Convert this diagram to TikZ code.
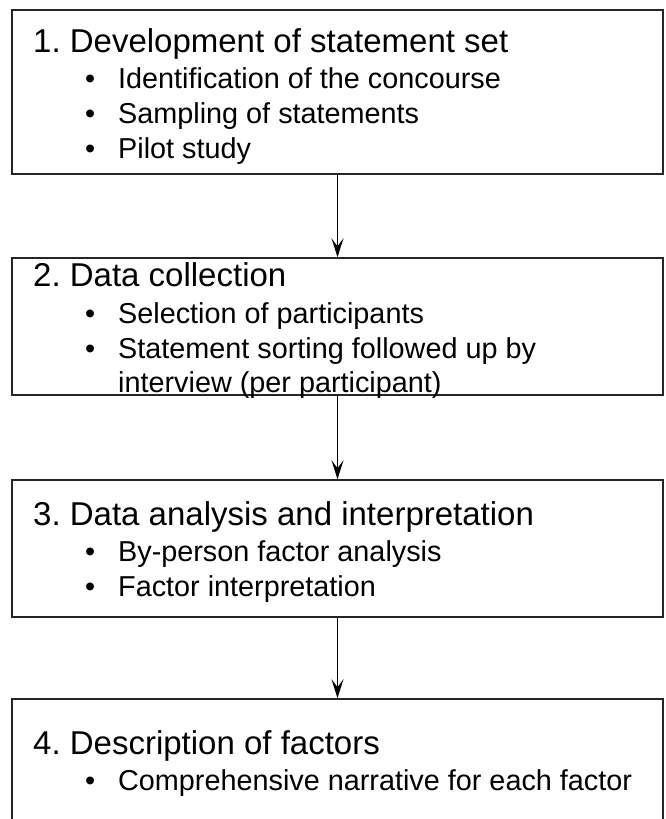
\documentclass[tikz,border=0pt]{standalone}
\usepackage{fontspec}
\setmainfont{Liberation Sans}
\usetikzlibrary{positioning,arrows.meta}
\usepackage{xcolor}
\newcommand{\itm}{\llap{\textbullet\hspace{23pt}}}
\frenchspacing

\begin{document}
\begin{tikzpicture}[x=1pt,y=-1pt,>={Stealth[length=19pt,width=12pt,inset=8pt]},
  stagebox/.style={draw=black!85,line width=1.6pt,minimum width=651pt,inner sep=0pt},
  title/.style={anchor=base west,inner sep=0pt,font=\fontsize{33}{38}\selectfont},
  entry/.style={anchor=base west,inner sep=0pt,font=\fontsize{28.8}{35}\selectfont}]
\useasboundingbox (0,0) rectangle (665,819);
% the four stages
\node[stagebox,minimum height=164pt] (b1) at (337.5,92) {};
\node[stagebox,minimum height=137pt] (b2) at (337.5,326.5) {};
\node[stagebox,minimum height=137pt] (b3) at (337.5,548.5) {};
\node[stagebox,minimum height=126pt] (b4) at (337.5,762) {};
% texts
\node[title] (t1) at (33,52) {1. Development of statement set};
\node[entry] (t1a) at (118,88) {\itm Identification of the concourse};
\node[entry] (t1b) at (118,123) {\itm Sampling of statements};
\node[entry] (t1c) at (118,158) {\itm Pilot study};
\node[title] (t2) at (33,286) {2. Data collection};
\node[entry] (t2a) at (118,323) {\itm Selection of participants};
\node[entry] (t2b) at (118,358) {\itm Statement sorting followed up by};
\node[entry] (t2c) at (118,392) {interview (per participant)};
\node[title] (t3) at (33,525) {3. Data analysis and interpretation};
\node[entry] (t3a) at (118,561) {\itm By-person factor analysis};
\node[entry] (t3b) at (118,596) {\itm Factor interpretation};
\node[title] (t4) at (33,754) {4. Description of factors};
\node[entry] (t4a) at (118,790) {\itm Comprehensive narrative for each factor};
% flow
\draw[->,line width=1.3pt] (b1) -- (b2);
\draw[->,line width=1.3pt] (b2) -- (b3);
\draw[->,line width=1.3pt] (b3) -- (b4);
\end{tikzpicture}
\end{document}
